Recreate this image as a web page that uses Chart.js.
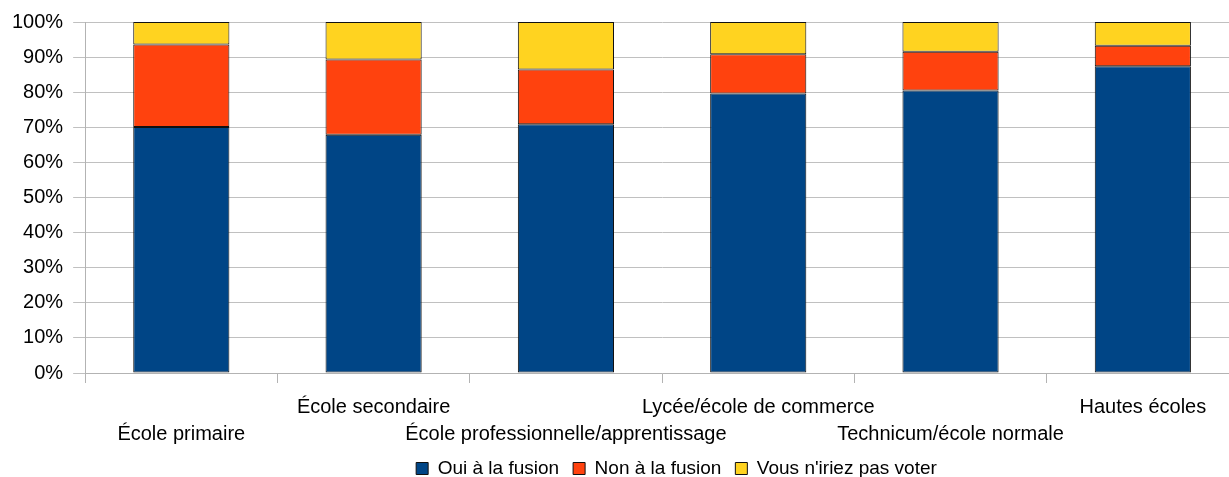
<!DOCTYPE html>
<html lang="fr">
<head>
<meta charset="utf-8">
<title>Fusion – répartition par niveau de formation</title>
<script src="https://cdn.jsdelivr.net/npm/chart.js@4.4.1/dist/chart.umd.min.js"></script>
<style>
  html, body { margin: 0; padding: 0; background: #fff; overflow: hidden; }
  #wrap { position: relative; width: 1240px; height: 477px; }
</style>
</head>
<body>
<div id="wrap"><canvas id="chart"></canvas></div>
<script>
// Niveaux de formation (axe des catégories)
const categories = [
  'École primaire',
  'École secondaire',
  'École professionnelle/apprentissage',
  'Lycée/école de commerce',
  'Technicum/école normale',
  'Hautes écoles'
];

// Parts des réponses, en %
const ouiFusion = [70.1, 67.9, 70.9, 79.6, 80.5, 87.4];
const nonFusion = [23.5, 21.4, 15.6, 11.2, 11.0, 5.8];
const pasVoter  = [6.4, 10.7, 13.5, 9.2, 8.5, 6.8];

const seriesNames = ['Oui à la fusion', 'Non à la fusion', "Vous n'iriez pas voter"];

// Graduations de l'axe des valeurs
const yTicks = [0, 10, 20, 30, 40, 50, 60, 70, 80, 90, 100];

const FONT = 'Liberation Sans, Arial, sans-serif';

// Les étiquettes alternent sur deux rangées pour ne pas se chevaucher
const staggered = categories.map((c, i) => i % 2 === 0 ? ['', c] : [c, '']);

// Décale la légende vers la droite, sous la zone de tracé
const legendShift = {
  id: 'legendShift',
  afterLayout(chart) {
    const lg = chart.legend;
    if (!lg) return;
    const dx = 56;
    lg.left += dx;
    lg.right += dx;
    lg.adjustHitBoxes && lg.adjustHitBoxes();
  }
};

new Chart(document.getElementById('chart'), {
  type: 'bar',
  data: {
    labels: staggered,
    datasets: [
      { label: seriesNames[0], data: ouiFusion, backgroundColor: '#004586' },
      { label: seriesNames[1], data: nonFusion, backgroundColor: '#ff420e' },
      { label: seriesNames[2], data: pasVoter,  backgroundColor: '#ffd320' }
    ]
  },
  options: {
    responsive: true,
    maintainAspectRatio: false,
    animation: false,
    layout: { padding: { left: 2, right: 1, top: 10, bottom: -11 } },
    datasets: {
      bar: {
        categoryPercentage: 0.5,
        barPercentage: 1.0,
        borderColor: '#111',
        borderWidth: 1,
        borderSkipped: false
      }
    },
    plugins: {
      tooltip: { enabled: false },
      legend: {
        position: 'bottom',
        labels: {
          font: { family: FONT, size: 19 },
          color: '#000',
          boxWidth: 12,
          boxHeight: 12,
          padding: 14
        }
      }
    },
    scales: {
      x: {
        stacked: true,
        afterFit(axis) { axis.height -= 14; },
        grid: { display: true, drawOnChartArea: false, drawTicks: true, tickLength: 10, color: '#b3b3b3', offset: true },
        border: { display: true, color: '#b3b3b3' },
        ticks: {
          font: { family: FONT, size: 20, lineHeight: 1.35 },
          color: '#000',
          maxRotation: 0,
          autoSkip: false,
          padding: 11
        }
      },
      y: {
        stacked: true,
        min: 0,
        max: 100,
        afterBuildTicks(axis) { axis.ticks = yTicks.map(v => ({ value: v })); },
        grid: { color: '#c0c0c0', tickLength: 12, drawTicks: true },
        border: { display: true, color: '#b3b3b3' },
        ticks: {
          font: { family: FONT, size: 20 },
          color: '#000',
          padding: 10,
          callback: v => v + '%'
        }
      }
    }
  },
  plugins: [legendShift]
});
</script>
</body>
</html>
